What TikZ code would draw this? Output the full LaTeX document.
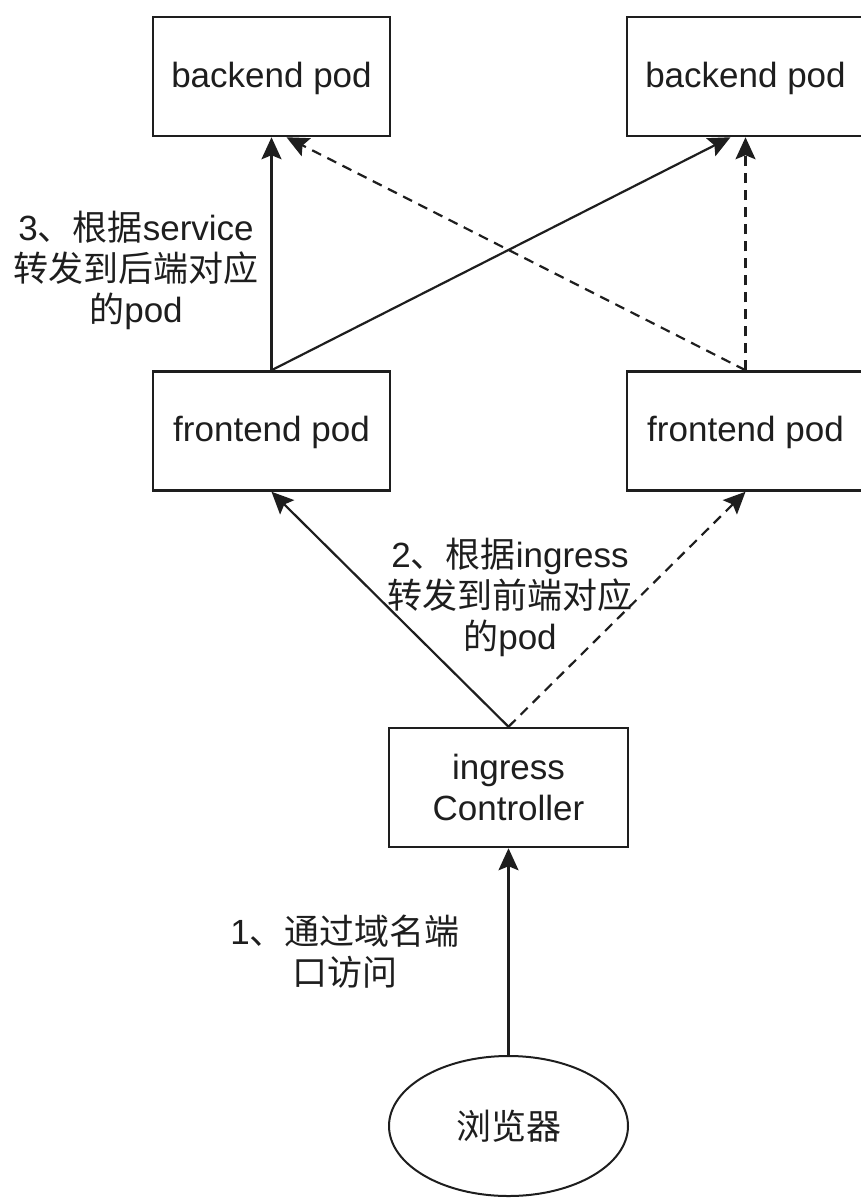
\documentclass[tikz,border=0pt]{standalone}
\usepackage{fontspec}
\setmainfont{Liberation Sans}
\newfontfamily\cjk{Noto Sans CJK SC}
\usepackage{tikz}
\usetikzlibrary{shapes.geometric, arrows.meta}
\newcommand{\zhtext}[1]{{\cjk #1}}
\definecolor{ink}{RGB}{30,30,30}
\tikzstyle{pod} = [draw=ink,line width=2.5pt,rectangle,minimum width=237pt,minimum height=119pt,text=ink,text depth=4pt]
\tikzstyle{client} = [draw=ink,line width=2pt,ellipse,minimum width=239pt,minimum height=140pt,text=ink]
\tikzstyle{note} = [text=ink,align=center,inner sep=0pt]
\tikzstyle{arrow} = [line width=2.2pt,draw=ink,-{Stealth[length=22pt,width=20pt,inset=4pt]}]
\tikzstyle{dasharrow} = [arrow,dash pattern=on 10pt off 7pt]

\begin{document}
\begin{tikzpicture}[x=1pt,y=-1pt,font=\fontsize{35}{41}\selectfont]
\useasboundingbox (0,0) rectangle (860,1198);

\node[pod] (backL) at (271.5,76.5) {backend pod};
\node[pod] (backR) at (745.5,76.5) {backend pod};
\node[pod] (frontL) at (271.5,431) {frontend pod};
\node[pod] (frontR) at (745.5,431) {frontend pod};
\node[pod,minimum width=239pt,align=center,text depth=0pt] (ctrl) at (508.5,787.5) {ingress\\Controller};
\node[client] (browser) at (508.5,1126) {\zhtext{浏览器}};

\draw[arrow] (browser) -- (ctrl);
\draw[arrow] (ctrl.north) -- (frontL.south);
\draw[dasharrow] (ctrl.north) -- (frontR.south);
\draw[arrow] (frontL.north) -- (backL.south);
\draw[arrow] (frontL.north) -- ([xshift=-15pt]backR.south);
\draw[dasharrow] (frontR.north) -- (backR.south);
\draw[dasharrow] (frontR.north) -- ([xshift=15pt]backL.south);

\node[note] (step1) at (345,952) {1\zhtext{、通过域名端}\\\zhtext{口访问}};
\node[note] (step2) at (510,597) {2\zhtext{、根据}ingress\\\zhtext{转发到前端对应}\\\zhtext{的}pod};
\node[note] (step3) at (136,270) {3\zhtext{、根据}service\\\zhtext{转发到后端对应}\\\zhtext{的}pod};

\end{tikzpicture}
\end{document}
